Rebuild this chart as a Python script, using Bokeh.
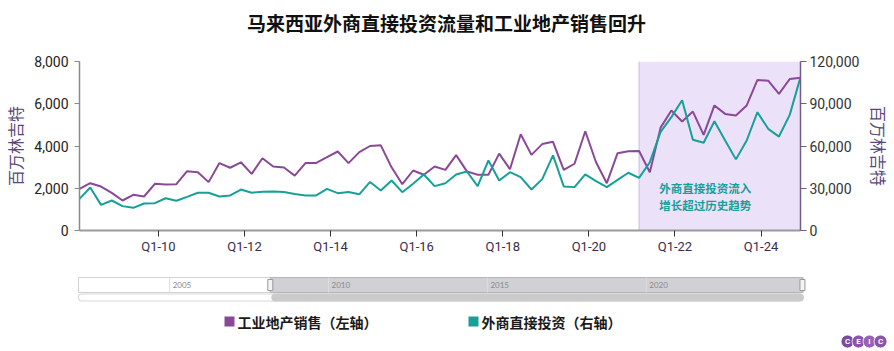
from bokeh.plotting import figure
from bokeh.models import (Range1d, LinearAxis, FixedTicker, NumeralTickFormatter,
                          BoxAnnotation, Span, ColumnDataSource)
from bokeh.layouts import column
from bokeh.embed import file_html
from bokeh.resources import INLINE
from bokeh.core.properties import value

TITLE = "马来西亚外商直接投资流量和工业地产销售回升"
SERIES_PURPLE = "工业地产销售（左轴）"
SERIES_TEAL = "外商直接投资（右轴）"
UNIT = "百万林吉特"
NOTE = ["外商直接投资流入", "增长超过历史趋势"]

quarters = [f"Q{q}-{y % 100:02d}" for y in range(2008, 2025) for q in range(1, 5)]

property_sales = [
    1970, 2240, 2080, 1780, 1420, 1690, 1610, 2210, 2180, 2190, 2810, 2760,
    2290, 3190, 2970, 3230, 2680, 3420, 3030, 2980, 2600, 3190, 3200, 3470,
    3740, 3190, 3710, 4000, 4030, 2990, 2190, 2840, 2640, 3030, 2870, 3570,
    2800, 2640, 2640, 3640, 2900, 4560, 3580, 4090, 4200, 2870, 3160, 4700,
    3230, 2240, 3660, 3750, 3760, 2760, 4870, 5680, 5160, 5630, 4530, 5920,
    5520, 5440, 5920, 7130, 7090, 6470, 7170, 7230,
]
fdi = [
    22500, 30500, 18200, 21300, 17300, 16100, 19200, 19400, 22900, 21100, 23900, 26800,
    26800, 24100, 24900, 29100, 26800, 27500, 27700, 27300, 25900, 24900, 24900, 29600,
    26500, 27300, 25700, 34500, 28400, 35500, 27200, 33200, 39800, 31500, 33600, 39800,
    41900, 31500, 49700, 35500, 41400, 37900, 29100, 36500, 53300, 31300, 30800, 39800,
    35000, 30800, 36000, 41000, 37400, 48500, 70000, 80500, 92500, 64400, 62300, 77600,
    63900, 50500, 63900, 84000, 72200, 66700, 82100, 109000,
]
left_ticks = [0, 2000, 4000, 6000, 8000]
right_ticks = [0, 30000, 60000, 90000, 120000]
x_tick_years = [2010, 2012, 2014, 2016, 2018, 2020, 2022, 2024]
x_tick_labels = ["Q1-10", "Q1-12", "Q1-14", "Q1-16", "Q1-18", "Q1-20", "Q1-22", "Q1-24"]
highlight_from = "Q1-21"
nav_years = [2005, 2010, 2015, 2020]

PURPLE = "#8a4898"
TEAL = "#17a098"
CJK = "Noto Sans CJK SC"
W = 894


def q_to_t(label):
    q = int(label[1])
    y = 2000 + int(label[3:])
    return y + (3 * q - 1) / 12.0


t = [q_to_t(s) for s in quarters]
src = ColumnDataSource(dict(t=t, sales=property_sales, fdi=fdi, q=quarters))


def blank_fig(h):
    f = figure(width=W, height=h, output_backend="svg", toolbar_location=None,
               x_range=Range1d(0, W), y_range=Range1d(h, 0),
               x_axis_type=None, y_axis_type=None, min_border=0)
    f.outline_line_color = None
    f.grid.visible = False
    f.background_fill_color = "white"
    f.border_fill_color = "white"
    return f


# ---------------- title ----------------
TITLE_H = 40
tf = blank_fig(TITLE_H)
tf.text(x=[446], y=[22], text=[TITLE], text_font=value(CJK), text_font_size="19px",
        text_font_style="bold", text_color="#111111", text_align="center",
        text_baseline="middle")

# ---------------- main chart ----------------
p = figure(width=W, height=222, output_backend="svg", toolbar_location=None,
           x_range=Range1d(t[0], t[-1]), y_range=Range1d(0, 8000),
           min_border_left=78, min_border_right=92, min_border_top=21,
           min_border_bottom=32, x_axis_type=None, y_axis_type=None)
p.extra_y_ranges = {"right": Range1d(0, 120000)}
p.outline_line_color = None
p.background_fill_color = "white"
p.border_fill_color = "white"

# highlight region
p.add_layout(BoxAnnotation(left=q_to_t(highlight_from), fill_color="#ebe1f8",
                           fill_alpha=1.0, line_color=None, level="underlay"))
p.add_layout(Span(location=q_to_t(highlight_from), dimension="height",
                  line_color="#cbb9ea", line_width=1, level="underlay"))

# axes
xaxis = LinearAxis(ticker=FixedTicker(ticks=x_tick_years),
                   major_label_overrides={y: l for y, l in zip(x_tick_years, x_tick_labels)})
xaxis.axis_line_color = "#9a9a9a"
xaxis.axis_line_width = 2
xaxis.major_tick_line_color = "#333333"
xaxis.major_tick_in = 0
xaxis.major_tick_out = 6
xaxis.minor_tick_line_color = None
xaxis.major_label_text_font = "Roboto"
xaxis.major_label_text_font_size = "13px"
xaxis.major_label_text_color = "#3a2c4d"
xaxis.major_label_standoff = 2
p.add_layout(xaxis, "below")

laxis = LinearAxis(ticker=FixedTicker(ticks=left_ticks),
                   formatter=NumeralTickFormatter(format="0,0"), axis_label=UNIT)
laxis.axis_line_color = "#8a8a8a"
laxis.axis_line_width = 1.5
laxis.major_tick_line_color = "#8a8a8a"
laxis.major_tick_in = 0
laxis.major_tick_out = 5
laxis.minor_tick_line_color = None
laxis.major_label_text_font = "Roboto"
laxis.major_label_text_font_size = "14px"
laxis.major_label_text_color = "#222222"
laxis.major_label_standoff = 6
laxis.axis_label_text_font = CJK
laxis.axis_label_text_font_size = "16px"
laxis.axis_label_text_font_style = "normal"
laxis.axis_label_text_color = "#5b4878"
laxis.axis_label_standoff = 4
p.add_layout(laxis, "left")

raxis = LinearAxis(y_range_name="right", ticker=FixedTicker(ticks=right_ticks),
                   formatter=NumeralTickFormatter(format="0,0"), axis_label=UNIT)
raxis.axis_line_color = "#6f5f86"
raxis.axis_line_width = 1.5
raxis.major_tick_line_color = "#6f5f86"
raxis.major_tick_in = 0
raxis.major_tick_out = 6
raxis.minor_tick_line_color = None
raxis.major_label_text_font = "Roboto"
raxis.major_label_text_font_size = "14px"
raxis.major_label_text_color = "#333333"
raxis.major_label_standoff = 3
raxis.axis_label_text_font = CJK
raxis.axis_label_text_font_size = "16px"
raxis.axis_label_text_font_style = "normal"
raxis.axis_label_text_color = "#5b4878"
raxis.axis_label_standoff = 5
p.add_layout(raxis, "right")

p.xgrid.ticker = FixedTicker(ticks=x_tick_years)
p.xgrid.grid_line_color = "#7a7a7a"
p.xgrid.grid_line_dash = "1 2"
p.xgrid.grid_line_width = 1
p.ygrid.ticker = FixedTicker(ticks=left_ticks)
p.ygrid.grid_line_color = "#cfcfcf"
p.ygrid.grid_line_dash = "1 3"
p.ygrid.grid_line_width = 1

p.line("t", "sales", source=src, line_color=PURPLE, line_width=2)
p.line("t", "fdi", source=src, y_range_name="right", line_color=TEAL, line_width=2)

note_t = q_to_t("Q3-21") - 0.03
p.text(x=[note_t, note_t], y=[2000, 1230], text=NOTE, text_color=TEAL,
       text_font=value(CJK), text_font_size="11.5px", text_font_style="bold",
       text_baseline="middle", text_align="left")

# ---------------- navigator + legend ----------------
NAV_H = 89
n = blank_fig(NAV_H)
for fig in (tf, p, n):
    if hasattr(fig, "frame_align"):
        fig.frame_align = False

nav_x0, nav_x1 = 78, 803
nav_y0, nav_y1 = 15, 30
year_lo, year_hi = 2002.13, 2024.95


def nx(year):
    return nav_x0 + (year - year_lo) / (year_hi - year_lo) * (nav_x1 - nav_x0)


# outer box
n.quad(left=[nav_x0], right=[nav_x1], top=[nav_y0], bottom=[nav_y1],
       fill_color="white", line_color="#d2d2d2", line_width=1)
# selected area
sel0, sel1 = nx(t[0]), nx(t[-1])
n.quad(left=[sel0], right=[sel1], top=[nav_y0], bottom=[nav_y1],
       fill_color="#d0d0d5", line_color="#b5b5b8", line_width=1)
# separators and year labels
for yr in nav_years:
    n.segment(x0=[nx(yr)], y0=[nav_y0], x1=[nx(yr)], y1=[nav_y1],
              line_color="#dcdcdc", line_width=1)
n.text(x=[nx(yr) + 3 for yr in nav_years], y=[(nav_y0 + nav_y1) / 2] * len(nav_years),
       text=[str(yr) for yr in nav_years], text_font=value("Lato"),
       text_font_size="8px", text_color="#8a8a8a", text_baseline="middle")
# handles
n.rect(x=[sel0, sel1], y=[(nav_y0 + nav_y1) / 2] * 2, width=5, height=11,
       fill_color="#f4f4f4", line_color="#9a9a9a", line_width=1)
# scrollbar
sb_y = 35
n.line(x=[nav_x0 + 3.5, nav_x1 - 3.5], y=[sb_y, sb_y], line_width=8,
       line_color="#d6d6d6", line_cap="round")
n.line(x=[nav_x0 + 3.5, nav_x1 - 3.5], y=[sb_y, sb_y], line_width=6,
       line_color="#ffffff", line_cap="round")
n.line(x=[sel0 + 5, nav_x1 - 4], y=[sb_y, sb_y], line_width=8,
       line_color="#cbcbcb", line_cap="round")

# legend
leg_y = 59
leg_x = [229, 473]
n.rect(x=leg_x, y=[leg_y, leg_y], width=10, height=10,
       fill_color=[PURPLE, TEAL], line_color=None)
n.text(x=[x + 8 for x in leg_x], y=[leg_y, leg_y], text=[SERIES_PURPLE, SERIES_TEAL],
       text_font=value(CJK), text_font_size="14px", text_font_style="bold",
       text_color="#1a1a1a", text_baseline="middle", text_align="left")

# CEIC logo
logo_y = 79
logo_x = [847, 858, 869, 880]
n.scatter(x=logo_x, y=[logo_y] * 4, size=13,
          fill_color=["#7c4a9e", "#8a55aa", "#9a62b5", "#8a55aa"], line_color="white",
          line_width=0.8)
n.text(x=logo_x, y=[logo_y] * 4, text=list("CEIC"), text_font=value("Roboto"),
       text_font_size="8px", text_font_style="bold", text_color="white",
       text_align="center", text_baseline="middle")

layout = column(tf, p, n, spacing=0)
open("out.html", "w").write(file_html(layout, INLINE))
